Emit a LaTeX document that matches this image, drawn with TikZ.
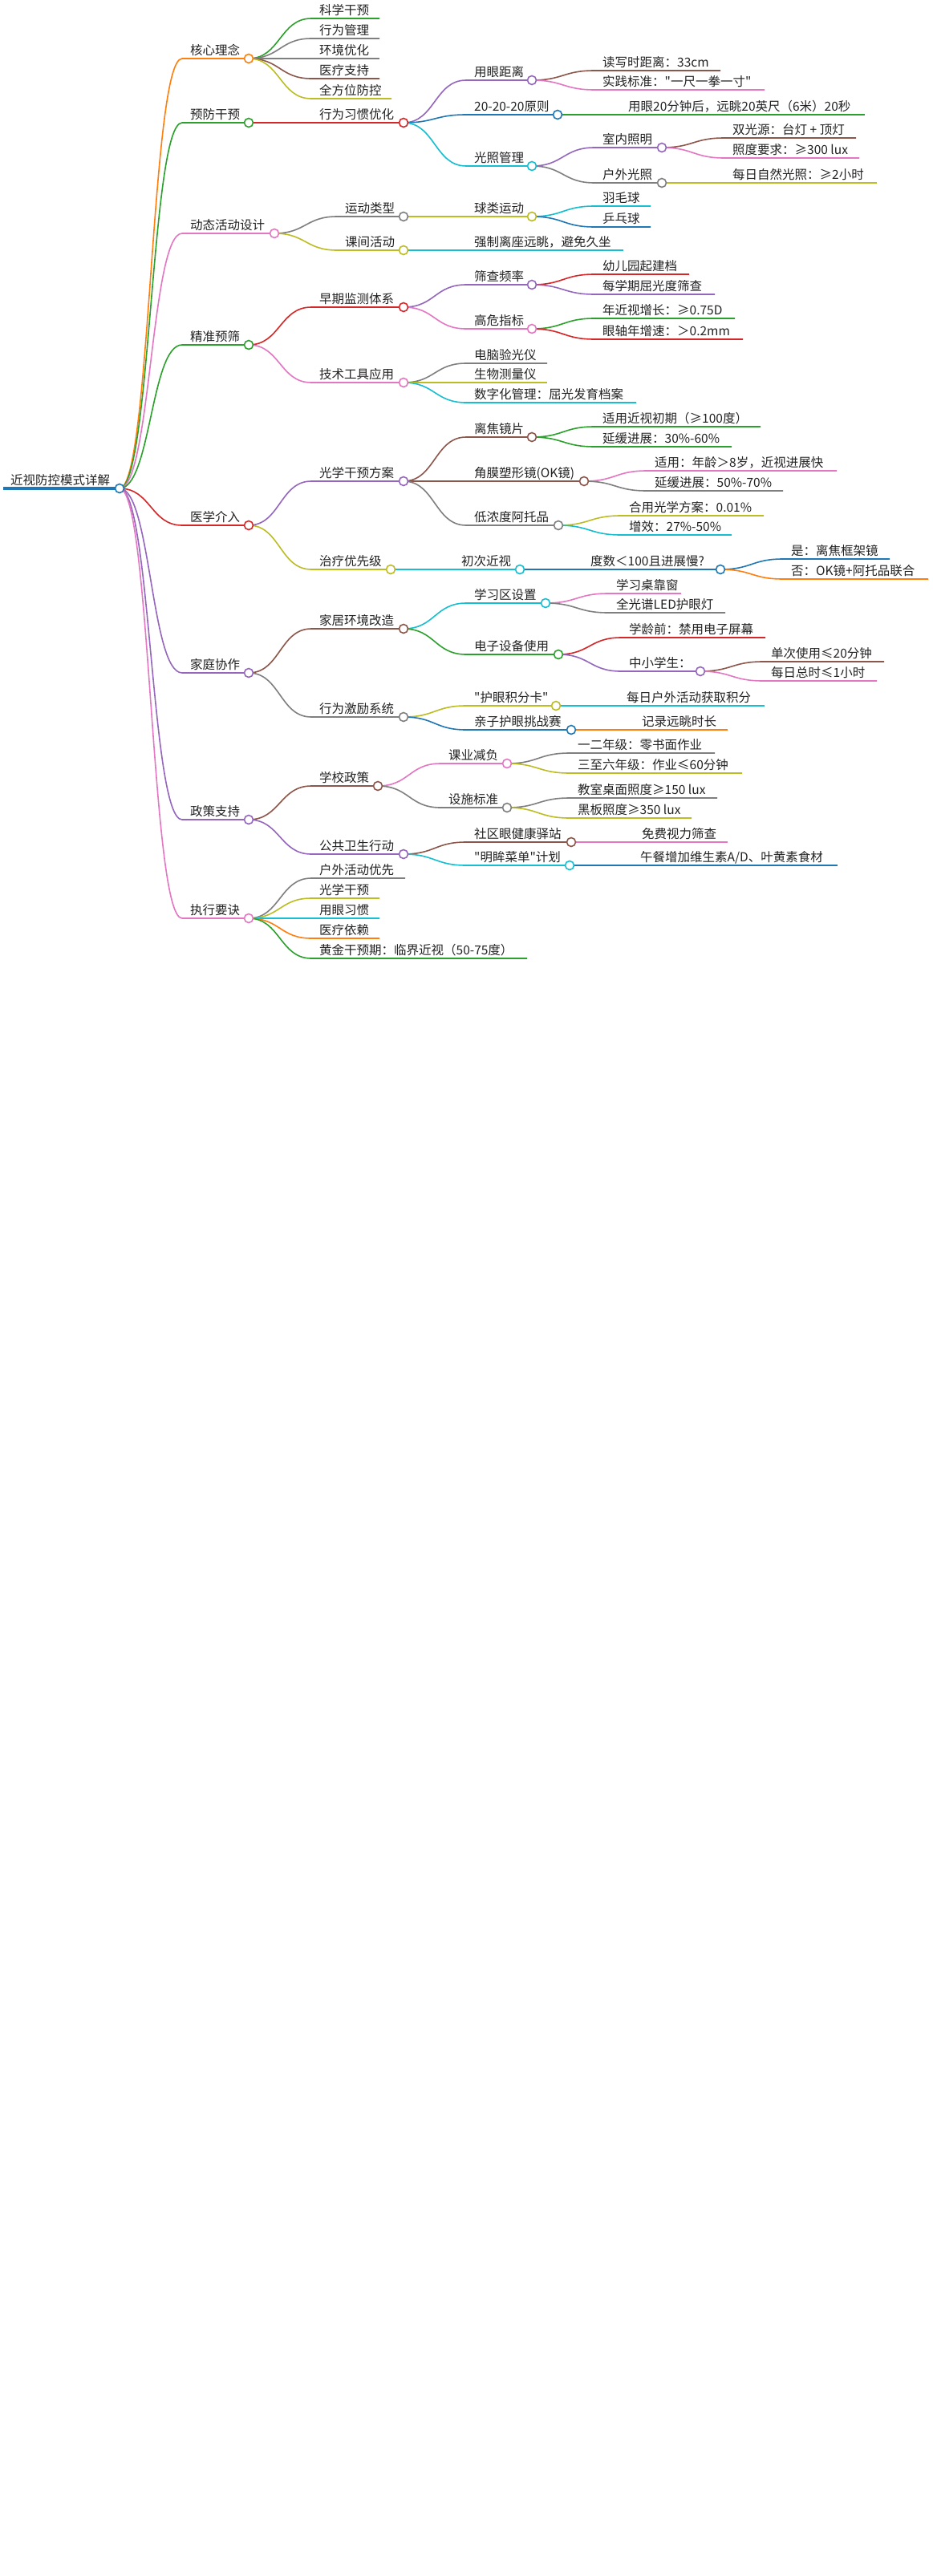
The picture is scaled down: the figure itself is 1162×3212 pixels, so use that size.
\documentclass[tikz,border=0pt]{standalone}
\usepackage{fontspec}
\setmainfont{Noto Sans CJK SC}
\newfontfamily\mmfont{Noto Sans CJK SC}
\usetikzlibrary{calc}
\pgfdeclarelayer{fg}
\pgfsetlayers{main,fg}
\definecolor{Cblue}{HTML}{1F77B4}
\definecolor{Corange}{HTML}{FF7F0E}
\definecolor{Cgreen}{HTML}{2CA02C}
\definecolor{Cred}{HTML}{D62728}
\definecolor{Cpurple}{HTML}{9467BD}
\definecolor{Cbrown}{HTML}{8C564B}
\definecolor{Cpink}{HTML}{E377C2}
\definecolor{Cgray}{HTML}{7F7F7F}
\definecolor{Colive}{HTML}{BCBD22}
\definecolor{Ccyan}{HTML}{17BECF}
\definecolor{Ctext}{HTML}{222222}
% #1 name, #2 parent, #3 colour, #4 start x, #5 y, #6 end x, #7 text
\newcommand\mmn[7]{%
  \coordinate (#1-s) at (#4,#5);
  \coordinate (#1) at (#6,#5);
  \coordinate (#1-m) at ($(#2)!0.5!(#1-s)$);
  \draw[mmlink,draw=#3] (#2) .. controls (#1-m |- #2) and (#1-m |- #1-s) .. (#1-s) -- (#1);
  \node[mmlbl,anchor=base west] (#1-t) at ($(#1-s)+(10,-5)$) {#7};
}
\newcommand\mmc[2]{%
  \begin{pgfonlayer}{fg}
  \node[mmdot,draw=#2] (#1-c) at (#1) {};
  \end{pgfonlayer}
}
\begin{document}
\begin{tikzpicture}[x=1pt,y=-1pt,
  mmlink/.style={line width=1.6pt},
  mmlbl/.style={inner sep=0pt,text=Ctext,font=\mmfont\fontsize{15.5pt}{18pt}\selectfont},
  mmdot/.style={circle,fill=white,line width=1.6pt,minimum size=11pt,inner sep=0pt}]
\fill[white] (0,0) rectangle (1162,3212);
\useasboundingbox (0,0) rectangle (1162,3212);
% root
\coordinate (R-s) at (4,609);
\coordinate (R) at (149,609);
\draw[line width=4pt,draw=Cblue] (R-s) -- (R);
\node[mmlbl,anchor=base west] (R-t) at (13,604) {近视防控模式详解};
\mmc{R}{Cblue}
% level 1
\mmn{A}{R}{Corange}{227}{73}{310}{核心理念}\mmc{A}{Corange}
\mmn{B}{R}{Cgreen}{227}{153}{310}{预防干预}\mmc{B}{Cgreen}
\mmn{C}{R}{Cpink}{227}{291}{342}{动态活动设计}\mmc{C}{Cpink}
\mmn{D}{R}{Cgreen}{227}{430}{310}{精准预筛}\mmc{D}{Cgreen}
\mmn{E}{R}{Cred}{227}{655}{310}{医学介入}\mmc{E}{Cred}
\mmn{F}{R}{Cpurple}{227}{839}{310}{家庭协作}\mmc{F}{Cpurple}
\mmn{G}{R}{Cpurple}{227}{1022}{310}{政策支持}\mmc{G}{Cpurple}
\mmn{H}{R}{Cpink}{227}{1145}{310}{执行要诀}\mmc{H}{Cpink}
% A
\mmn{A1}{A}{Cgreen}{388}{23}{473}{科学干预}
\mmn{A2}{A}{Cgray}{388}{48}{473}{行为管理}
\mmn{A3}{A}{Cgray}{388}{73}{473}{环境优化}
\mmn{A4}{A}{Cbrown}{388}{98}{473}{医疗支持}
\mmn{A5}{A}{Colive}{388}{123}{488}{全方位防控}
% B
\mmn{B1}{B}{Cred}{388}{153}{503}{行为习惯优化}\mmc{B1}{Cred}
\mmn{B11}{B1}{Cpurple}{581}{100}{663}{用眼距离}\mmc{B11}{Cpurple}
\mmn{B12}{B1}{Cblue}{581}{143}{695}{20-20-20原则}\mmc{B12}{Cblue}
\mmn{B13}{B1}{Ccyan}{581}{207}{663}{光照管理}\mmc{B13}{Ccyan}
\mmn{B111}{B11}{Cbrown}{741}{88}{898}{读写时距离：33cm}
\mmn{B112}{B11}{Cpink}{741}{112}{953}{实践标准："一尺一拳一寸"}
\mmn{B121}{B12}{Cgreen}{773}{143}{1078}{用眼20分钟后，远眺20英尺（6米）20秒}
\mmn{B131}{B13}{Cpurple}{741}{184}{825}{室内照明}\mmc{B131}{Cpurple}
\mmn{B132}{B13}{Cgray}{741}{228}{825}{户外光照}\mmc{B132}{Cgray}
\mmn{B1311}{B131}{Cbrown}{903}{172}{1067}{双光源：台灯 + 顶灯}
\mmn{B1312}{B131}{Cpink}{903}{197}{1071}{照度要求：≥300 lux}
\mmn{B1321}{B132}{Colive}{903}{228}{1093}{每日自然光照：≥2小时}
% C
\mmn{C1}{C}{Cgray}{420}{270}{503}{运动类型}\mmc{C1}{Cgray}
\mmn{C2}{C}{Colive}{420}{312}{503}{课间活动}\mmc{C2}{Colive}
\mmn{C11}{C1}{Colive}{581}{270}{663}{球类运动}\mmc{C11}{Colive}
\mmn{C111}{C11}{Ccyan}{741}{257}{811}{羽毛球}
\mmn{C112}{C11}{Cblue}{741}{283}{811}{乒乓球}
\mmn{C21}{C2}{Ccyan}{581}{312}{777}{强制离座远眺，避免久坐}
% D
\mmn{D1}{D}{Cred}{388}{383}{503}{早期监测体系}\mmc{D1}{Cred}
\mmn{D2}{D}{Cpink}{388}{477}{503}{技术工具应用}\mmc{D2}{Cpink}
\mmn{D11}{D1}{Cpurple}{581}{355}{663}{筛查频率}\mmc{D11}{Cpurple}
\mmn{D12}{D1}{Cpink}{581}{410}{663}{高危指标}\mmc{D12}{Cpink}
\mmn{D111}{D11}{Cred}{741}{342}{859}{幼儿园起建档}
\mmn{D112}{D11}{Cpurple}{741}{367}{891}{每学期屈光度筛查}
\mmn{D121}{D12}{Cgreen}{741}{397}{916}{年近视增长：≥0.75D}
\mmn{D122}{D12}{Cred}{741}{423}{926}{眼轴年增速：＞0.2mm}
\mmn{D21}{D2}{Cgray}{581}{453}{682}{电脑验光仪}
\mmn{D22}{D2}{Colive}{581}{477}{682}{生物测量仪}
\mmn{D23}{D2}{Ccyan}{581}{502}{793}{数字化管理：屈光发育档案}
% E
\mmn{E1}{E}{Cpurple}{388}{600}{503}{光学干预方案}\mmc{E1}{Cpurple}
\mmn{E2}{E}{Colive}{388}{710}{487}{治疗优先级}\mmc{E2}{Colive}
\mmn{E11}{E1}{Cbrown}{581}{545}{663}{离焦镜片}\mmc{E11}{Cbrown}
\mmn{E12}{E1}{Cbrown}{581}{600}{728}{角膜塑形镜(OK镜)}\mmc{E12}{Cbrown}
\mmn{E13}{E1}{Cgray}{581}{655}{696}{低浓度阿托品}\mmc{E13}{Cgray}
\mmn{E111}{E11}{Cgreen}{741}{532}{948}{适用近视初期（≥100度）}
\mmn{E112}{E11}{Cgreen}{741}{557}{912}{延缓进展：30\%-60\%}
\mmn{E121}{E12}{Cpink}{806}{587}{1043}{适用：年龄＞8岁，近视进展快}
\mmn{E122}{E12}{Cgray}{806}{612}{976}{延缓进展：50\%-70\%}
\mmn{E131}{E13}{Colive}{774}{643}{952}{合用光学方案：0.01\%}
\mmn{E132}{E13}{Ccyan}{774}{667}{912}{增效：27\%-50\%}
\mmn{E21}{E2}{Ccyan}{565}{710}{648}{初次近视}\mmc{E21}{Ccyan}
\mmn{E211}{E21}{Cblue}{726}{710}{898}{度数＜100且进展慢?}\mmc{E211}{Cblue}
\mmn{E2111}{E211}{Cblue}{976}{697}{1109}{是：离焦框架镜}
\mmn{E2112}{E211}{Corange}{976}{722}{1157}{否：OK镜+阿托品联合}
% F
\mmn{F1}{F}{Cbrown}{388}{784}{503}{家居环境改造}\mmc{F1}{Cbrown}
\mmn{F2}{F}{Cgray}{388}{894}{503}{行为激励系统}\mmc{F2}{Cgray}
\mmn{F11}{F1}{Ccyan}{581}{752}{680}{学习区设置}\mmc{F11}{Ccyan}
\mmn{F12}{F1}{Cgreen}{581}{816}{696}{电子设备使用}\mmc{F12}{Cgreen}
\mmn{F111}{F11}{Cpink}{758}{740}{849}{学习桌靠窗}
\mmn{F112}{F11}{Cgray}{758}{764}{904}{全光谱LED护眼灯}
\mmn{F121}{F12}{Cred}{774}{795}{954}{学龄前：禁用电子屏幕}
\mmn{F122}{F12}{Cpurple}{774}{837}{873}{中小学生：}\mmc{F122}{Cpurple}
\mmn{F1221}{F122}{Cbrown}{951}{825}{1102}{单次使用≤20分钟}
\mmn{F1222}{F122}{Cpink}{951}{849}{1093}{每日总时≤1小时}
\mmn{F21}{F2}{Colive}{581}{880}{693}{"护眼积分卡"}\mmc{F21}{Colive}
\mmn{F22}{F2}{Cblue}{581}{910}{712}{亲子护眼挑战赛}\mmc{F22}{Cblue}
\mmn{F211}{F21}{Ccyan}{771}{880}{953}{每日户外活动获取积分}
\mmn{F221}{F22}{Corange}{790}{910}{907}{记录远眺时长}
% G
\mmn{G1}{G}{Cbrown}{388}{980}{471}{学校政策}\mmc{G1}{Cbrown}
\mmn{G2}{G}{Cpurple}{388}{1065}{503}{公共卫生行动}\mmc{G2}{Cpurple}
\mmn{G11}{G1}{Cpink}{549}{952}{632}{课业减负}\mmc{G11}{Cpink}
\mmn{G12}{G1}{Cgray}{549}{1007}{632}{设施标准}\mmc{G12}{Cgray}
\mmn{G111}{G11}{Cgray}{710}{939}{891}{一二年级：零书面作业}
\mmn{G112}{G11}{Colive}{710}{964}{925}{三至六年级：作业≤60分钟}
\mmn{G121}{G12}{Cgray}{710}{995}{894}{教室桌面照度≥150 lux}
\mmn{G122}{G12}{Colive}{710}{1020}{862}{黑板照度≥350 lux}
\mmn{G21}{G2}{Cbrown}{581}{1050}{712}{社区眼健康驿站}\mmc{G21}{Cbrown}
\mmn{G22}{G2}{Ccyan}{581}{1079}{710}{"明眸菜单"计划}\mmc{G22}{Ccyan}
\mmn{G211}{G21}{Cpink}{790}{1050}{907}{免费视力筛查}
\mmn{G221}{G22}{Cblue}{788}{1079}{1044}{午餐增加维生素A/D、叶黄素食材}
% H
\mmn{H1}{H}{Cgray}{388}{1095}{505}{户外活动优先}
\mmn{H2}{H}{Colive}{388}{1120}{473}{光学干预}
\mmn{H3}{H}{Ccyan}{388}{1145}{473}{用眼习惯}
\mmn{H4}{H}{Corange}{388}{1170}{473}{医疗依赖}
\mmn{H5}{H}{Cgreen}{388}{1195}{657}{黄金干预期：临界近视（50-75度）}
\end{tikzpicture}
\end{document}
